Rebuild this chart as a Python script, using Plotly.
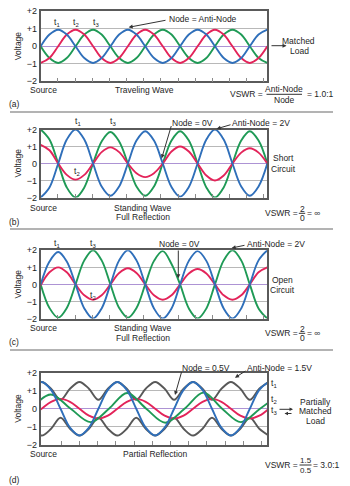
import plotly.graph_objects as go

W, H = 350, 486

# ---------------- data ----------------
# positions along the line for panels (a)-(c), in tick units (half quarter-wave steps)
X_ABC = [0, 0.51, 1.02, 1.52, 2.03, 2.54, 3.05, 3.55, 4.06, 4.57, 5.08, 5.58, 6.09, 6.6,
         7.11, 7.62, 8.12, 8.63, 9.14, 9.65, 10.15, 10.66, 11.17, 11.68, 12.18, 12.69, 13.2]

# (a) traveling wave
A_T1 = [0, .67, .95, .67, 0, -.67, -.95, -.67, 0, .67, .95, .67, 0, -.67, -.95, -.67,
        0, .67, .95, .67, 0, -.67, -.95, -.67, 0, .67, .95]
A_T2 = [-.95, -.67, 0, .67, .95, .67, 0, -.67, -.95, -.67, 0, .67, .95, .67, 0, -.67,
        -.95, -.67, 0, .67, .95, .67, 0, -.67, -.95, -.67, 0]
A_T3 = [0, -.67, -.95, -.67, 0, .67, .95, .67, 0, -.67, -.95, -.67, 0, .67, .95, .67,
        0, -.67, -.95, -.67, 0, .67, .95, .67, 0, -.67, -.95]

# (b) standing wave, short circuit
B_T1 = [-2, -1.41, 0, 1.41, 2, 1.41, 0, -1.35, -1.9, -1.35, 0, 1.35, 1.9, 1.35, 0, -1.38,
        -1.95, -1.38, 0, 1.41, 2, 1.41, 0, -1.35, -1.9, -1.35, 0]
B_T2 = [1.1, .78, 0, -.67, -.95, -.67, 0, .67, .95, .67, 0, -.57, -.8, -.57, 0, .71,
        1.0, .71, 0, -.71, -1.0, -.71, 0, .64, .9, .64, 0]
B_T3 = [2, 1.41, 0, -1.41, -2, -1.41, 0, 1.3, 1.85, 1.3, 0, -1.35, -1.9, -1.35, 0, 1.35,
        1.9, 1.35, 0, -1.41, -2, -1.41, 0, 1.35, 1.9, 1.35, 0]

# (c) standing wave, open circuit
C_T1 = [0, 1.34, 1.9, 1.34, 0, -1.41, -2, -1.41, 0, 1.41, 2, 1.41, 0, -1.41, -2, -1.41,
        0, 1.38, 1.95, 1.38, 0, -1.41, -2, -1.41, 0, 1.41, 2]
C_T2 = [-.05, .71, 1.0, .71, 0, -.64, -.9, -.64, 0, .67, .95, .67, 0, -.64, -.9, -.64,
        0, .64, .9, .64, 0, -.64, -.9, -.64, 0, .71, 1.0]
C_T3 = [0, -1.38, -1.95, -1.38, 0, 1.41, 2, 1.41, 0, -1.38, -1.95, -1.38, 0, 1.38, 1.95, 1.2,
        0, -1.41, -2, -1.41, 0, 1.41, 2, 1.41, 0, -1.41, -2]

# (d) partial reflection
X_D = [-0.47, 0.05, 0.57, 1.09, 1.61, 2.13, 2.65, 3.17, 3.69, 4.21, 4.73, 5.25, 5.77,
       6.29, 6.81, 7.33, 7.85, 8.37, 8.89, 9.41, 9.93, 10.45, 10.97, 11.49, 12.01, 12.53]
D_UPPER = [1.12, 1.5, 1.12, .5, 1.12, 1.5, 1.12, .5, 1.12, 1.5, 1.12, .5, 1.12,
           1.5, 1.12, .5, 1.12, 1.5, 1.12, .5, 1.12, 1.5, 1.12, .5, 1.12, 1.5]
D_LOWER = [-1.12, -1.5, -1.12, -.5, -1.12, -1.5, -1.12, -.5, -1.12, -1.5, -1.12, -.5, -1.12,
           -1.5, -1.12, -.5, -1.12, -1.5, -1.12, -.5, -1.12, -1.5, -1.12, -.5, -1.12, -1.5]
D_T1 = [1.06, 1.5, 1.06, 0, -1.06, -1.5, -1.06, 0, 1.06, 1.5, 1.06, 0, -1.06,
        -1.5, -1.06, 0, 1.06, 1.5, 1.06, 0, -1.06, -1.5, -1.06, 0, 1.06, 1.5]
D_T3 = [-.39, 0, .39, .55, .39, 0, -.39, -.55, -.39, 0, .39, .55, .39,
        0, -.39, -.55, -.39, 0, .39, .55, .39, 0, -.39, -.55, -.39, 0]
X_D_T2 = [-0.5, 0.55, 1.65, 2.75, 3.75, 4.75, 5.8, 6.85, 7.9, 8.95, 9.97, 11.0, 12.05, 13.1]
D_T2 = [0, 0.8, 0, -0.75, 0, 0.88, 0, -0.78, 0, 0.9, 0, -0.75, 0, 0.8]

Y_TICKS = [-2, -1, 0, 1, 2]
Y_TICK_TEXT = ["\u22122", "\u22121", "0", "+1", "+2"]
X_TICKS_ABC = [1, 2, 3, 4, 5, 6, 7, 8, 9, 10, 11, 12, 13]
X_TICKS_D = [1.13, 2.13, 3.13, 4.13, 5.13, 6.13, 7.13, 8.13, 9.13, 10.13, 11.13, 12.13]

# ---------------- styling ----------------
BLUE = "#2f6fba"
RED = "#e3245a"
GREEN = "#1f9a56"
GRAY = "#585858"
FONT = "Liberation Sans"
TXT = "#1e1e1e"
FS = 8.5

fig = go.Figure()

# panel geometry in pixels: (top of +2, bottom of -2)
panels = [
    ("x", "y", 11.3, 81.3, 13.2, X_TICKS_ABC),
    ("x2", "y2", 129.5, 197.5, 13.2, X_TICKS_ABC),
    ("x3", "y3", 250.3, 318.5, 13.2, X_TICKS_ABC),
    ("x4", "y4", 373.0, 444.5, 12.45, X_TICKS_D),
]
XL, XR = 40.7, 267.3


def add_line(xa, ya, xs, ys, color, width=1.9):
    fig.add_trace(go.Scatter(x=xs, y=ys, mode="lines", xaxis=xa, yaxis=ya,
                             line=dict(color=color, width=width, shape="spline", smoothing=1.0),
                             hoverinfo="skip", showlegend=False))


add_line("x", "y", X_ABC, A_T3, GREEN)
add_line("x", "y", X_ABC, A_T2, RED)
add_line("x", "y", X_ABC, A_T1, BLUE)

add_line("x2", "y2", X_ABC, B_T3, GREEN)
add_line("x2", "y2", X_ABC, B_T2, RED)
add_line("x2", "y2", X_ABC, B_T1, BLUE)

add_line("x3", "y3", X_ABC, C_T3, GREEN)
add_line("x3", "y3", X_ABC, C_T2, RED)
add_line("x3", "y3", X_ABC, C_T1, BLUE)

add_line("x4", "y4", X_D, D_UPPER, GRAY)
add_line("x4", "y4", X_D, D_LOWER, GRAY)
add_line("x4", "y4", X_D, D_T3, RED)
add_line("x4", "y4", X_D_T2, D_T2, GREEN)
add_line("x4", "y4", X_D, D_T1, BLUE)

layout = dict(width=W, height=H, autosize=False,
              margin=dict(l=0, r=0, t=0, b=0),
              paper_bgcolor="white", plot_bgcolor="white",
              showlegend=False)

for i, (xa, ya, top, bot, xmax, xt) in enumerate(panels):
    xk = "xaxis" + ("" if i == 0 else str(i + 1))
    yk = "yaxis" + ("" if i == 0 else str(i + 1))
    layout[xk] = dict(domain=[XL / W, XR / W], range=[0, xmax], anchor=ya,
                      showline=True, mirror=True, linecolor="#5a5a5a", linewidth=1.6,
                      ticks="inside", tickvals=xt, ticklen=4, tickcolor="#8a8a8a", tickwidth=1,
                      showticklabels=False, showgrid=False, zeroline=False, fixedrange=True)
    layout[yk] = dict(domain=[1 - bot / H, 1 - top / H], range=[-2, 2], anchor=xa,
                      showline=True, mirror=True, linecolor="#5a5a5a", linewidth=1.6,
                      tickvals=Y_TICKS, ticktext=Y_TICK_TEXT, ticks="",
                      tickfont=dict(family=FONT, size=9, color=TXT),
                      showgrid=True, gridcolor="#b8b8b8", gridwidth=1.4,
                      zeroline=True, zerolinecolor="#ad93d4", zerolinewidth=1.4,
                      fixedrange=True, automargin=False)

annotations = []
shapes = []


def text(x, y, s, anchor="center", size=FS, **kw):
    d = dict(x=x / W, y=1 - y / H, xref="paper", yref="paper", text=s, showarrow=False,
             xanchor=anchor, yanchor="middle", borderpad=0,
             font=dict(family=FONT, size=size, color=TXT))
    d.update(kw)
    annotations.append(d)


def arrow(tx, ty, hx, hy, size=0.8):
    annotations.append(dict(x=hx / W, y=1 - hy / H, xref="paper", yref="paper", text="",
                            showarrow=True, ax=tx - hx, ay=ty - hy, axref="pixel", ayref="pixel",
                            arrowhead=2, arrowsize=size, arrowwidth=1, arrowcolor="#333333",
                            standoff=0, startstandoff=0))


def hline(x0, x1, y, color="#333333", width=1):
    shapes.append(dict(type="line", xref="paper", yref="paper",
                       x0=x0 / W, x1=x1 / W, y0=1 - y / H, y1=1 - y / H,
                       line=dict(color=color, width=width)))


# Voltage labels
for top, bot in [(11.3, 81.3), (129.5, 197.5), (250.3, 318.5), (373.0, 444.5)]:
    text(18, (top + bot) / 2, "Voltage", textangle=-90)

# ---- panel (a)
text(57.3, 23, "t<sub>1</sub>")
text(76.3, 23, "t<sub>2</sub>")
text(96.3, 23, "t<sub>3</sub>")
text(203, 19, "Node = Anti-Node")
arrow(167, 20, 128.7, 27.3)
text(298.5, 41.2, "Matched")
text(299.5, 51.4, "Load")
arrow(270, 45.7, 286.5, 45.7)
text(29, 90, "Source", anchor="left")
text(144, 90, "Traveling Wave")
text(8, 104, "(a)", anchor="left")
text(264, 94.3, "VSWR =", anchor="right")
text(284, 89, "Anti-Node")
hline(266.5, 302, 94.3)
text(284, 99.6, "Node")
text(305.5, 94.3, "= 1.0:1", anchor="left")
hline(10, 333, 112, color="#9a9a9a", width=1.4)

# ---- panel (b)
text(77.7, 121, "t<sub>1</sub>")
text(113.3, 121, "t<sub>3</sub>")
text(77.3, 171.7, "t<sub>2</sub>")
text(193, 122.7, "Node = 0V")
arrow(171.7, 124.5, 161.7, 158.3)
text(261, 122.7, "Anti-Node = 2V")
arrow(232, 124.3, 216.7, 128.8)
text(283, 157.8, "Short")
text(283, 168.6, "Circuit")
text(29, 207.7, "Source", anchor="left")
text(143, 207.7, "Standing Wave")
text(143, 217, "Full Reflection")
text(8, 222.3, "(b)", anchor="left")
text(299, 213.3, "VSWR =", anchor="right")
text(302, 208.8, "2")
hline(298.8, 305.2, 213.3)
text(302, 218, "0")
text(306.3, 213.3, "= \u221e", anchor="left")
hline(10, 333, 229, color="#9a9a9a", width=1.4)

# ---- panel (c)
text(57.3, 243.5, "t<sub>1</sub>")
text(93.3, 243.5, "t<sub>3</sub>")
text(93.3, 295, "t<sub>2</sub>")
text(179, 244, "Node = 0V")
arrow(178.3, 249, 178.3, 278.3)
text(275.5, 244, "Anti-Node = 2V")
arrow(246, 245, 231.7, 248)
text(282, 279.5, "Open")
text(282, 289.5, "Circuit")
text(29, 328.3, "Source", anchor="left")
text(143, 328.3, "Standing Wave")
text(143, 337.6, "Full Reflection")
text(8, 341.7, "(c)", anchor="left")
text(299, 333.3, "VSWR =", anchor="right")
text(302, 328.8, "2")
hline(298.8, 305.2, 333.3)
text(302, 338, "0")
text(306.3, 333.3, "= \u221e", anchor="left")
hline(10, 333, 350, color="#9a9a9a", width=1.4)

# ---- panel (d)
text(206, 368.3, "Node = 0.5V")
arrow(182, 370.5, 175, 395)
text(279, 368.3, "Anti-Node = 1.5V")
arrow(247, 370, 235, 377.7)
text(269.5, 383.3, "t<sub>1</sub>", anchor="left")
text(269.5, 399.5, "t<sub>2</sub>", anchor="left")
text(269.5, 410, "t<sub>3</sub>", anchor="left")
arrow(278, 409.3, 293, 409.3, size=0.7)
arrow(293, 413.5, 284.5, 413.5, size=0.7)
text(315, 401.5, "Partially")
text(315, 411.3, "Matched")
text(315, 421, "Load")
text(29, 454, "Source", anchor="left")
text(155, 454, "Partial Reflection")
text(8, 479.5, "(d)", anchor="left")
text(298.5, 465, "VSWR =", anchor="right")
text(305.5, 460, "1.5", size=8)
hline(299.5, 311.5, 465)
text(305.5, 470, "0.5", size=8)
text(312, 465, "= 3.0:1", anchor="left")

layout["annotations"] = annotations
layout["shapes"] = shapes
fig.update_layout(**layout)
fig.write_html("out.html")
